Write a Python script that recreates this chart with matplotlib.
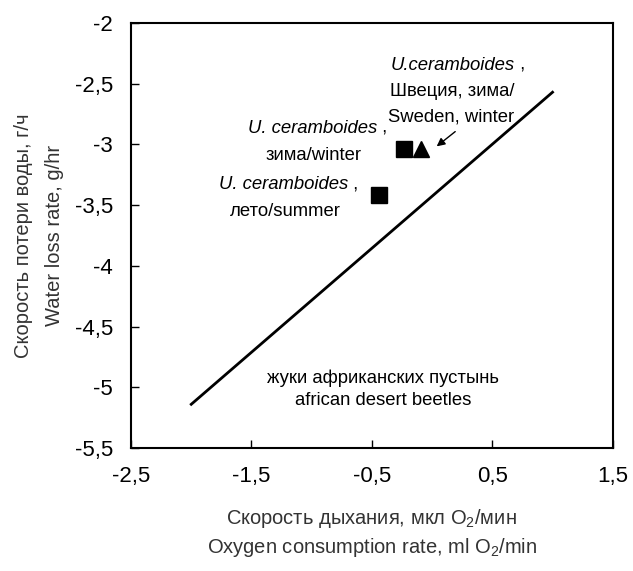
import matplotlib
matplotlib.use('Agg')
import matplotlib.pyplot as plt

plt.rcParams['font.family'] = ['Liberation Sans', 'DejaVu Sans']
plt.rcParams['mathtext.fontset'] = 'custom'
plt.rcParams['mathtext.rm'] = 'Liberation Sans'

# regression line for african desert beetles
line_x = [-2.0, 1.0]
line_y = [-5.14, -2.57]

# U. ceramboides points
summer_x, summer_y = [-0.44], [-3.42]
winter_x, winter_y = [-0.23], [-3.04]
sweden_x, sweden_y = [-0.09], [-3.04]

xticks = [-2.5, -1.5, -0.5, 0.5, 1.5]
yticks = [-5.5, -5, -4.5, -4, -3.5, -3, -2.5, -2]


def fmt(v):
    s = ('%g' % v).replace('.', ',')
    return s


fig = plt.figure(figsize=(6.33, 5.71), dpi=100)
ax = fig.add_axes([0.207, 0.2154, 0.761, 0.7443])

ax.plot(line_x, line_y, color='black', lw=2)
ax.plot(summer_x, summer_y, 's', color='black', ms=11)
ax.plot(winter_x, winter_y, 's', color='black', ms=11)
ax.plot(sweden_x, sweden_y, '^', color='black', ms=12)

ax.set_xlim(-2.5, 1.5)
ax.set_ylim(-5.5, -2)
ax.set_xticks(xticks)
ax.set_xticklabels([fmt(v) for v in xticks])
ax.set_yticks(yticks)
ax.set_yticklabels([fmt(v) for v in yticks])
ax.tick_params(direction='in', length=6, width=1, labelsize=16, pad=13)
for s in ax.spines.values():
    s.set_linewidth(1.5)

fs = 13.3


def species(x, y, name):
    # italic species name followed by an upright comma
    ax.text(x, y, name, style='italic', ha='right', va='center', fontsize=fs)
    ax.text(x, y, ' ,', ha='left', va='center', fontsize=fs)


# Sweden label
species(0.687, -2.346, 'U.ceramboides')
ax.text(0.164, -2.568, 'Швеция, зима/', ha='center', va='center', fontsize=fs)
ax.text(0.156, -2.774, 'Sweden, winter', ha='center', va='center', fontsize=fs)
ax.annotate('', xy=(0.02, -3.03), xytext=(0.21, -2.88),
            arrowprops=dict(arrowstyle='-|>', color='black', lw=1, mutation_scale=12))

# winter label
species(-0.458, -2.865, 'U. ceramboides')
ax.text(-0.981, -3.087, 'зима/winter', ha='center', va='center', fontsize=fs)

# summer label
species(-0.699, -3.334, 'U. ceramboides')
ax.text(-1.222, -3.549, 'лето/summer', ha='center', va='center', fontsize=fs)

ax.text(-0.409, -4.924, 'жуки африканских пустынь', ha='center', va='center', fontsize=fs)
ax.text(-0.409, -5.105, 'african desert beetles', ha='center', va='center', fontsize=fs)

ax.set_xlabel('Скорость дыхания, мкл O$_2$/мин\nOxygen consumption rate, ml O$_2$/min',
              fontsize=14.5, color='#333333', labelpad=14, linespacing=1.4)
ax.set_ylabel('Скорость потери воды, г/ч\nWater loss rate, g/hr',
              fontsize=14.5, color='#333333', labelpad=8, linespacing=1.75)

fig.savefig('out.png', dpi=100)
